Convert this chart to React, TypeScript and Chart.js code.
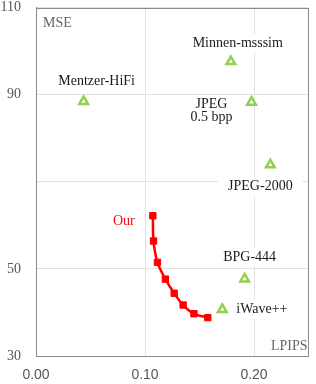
import React, { useEffect, useRef } from 'react';
import { Chart, registerables } from 'chart.js';

Chart.register(...registerables);

// ---- data ----
const ourName = 'Our';
const ourLpips = [0.1072, 0.1078, 0.1114, 0.1187, 0.1268, 0.135, 0.1449, 0.1576];
const ourMse = [62.2, 56.4, 51.5, 47.65, 44.4, 41.7, 39.7, 38.8];

const methodNames = ['Mentzer-HiFi', 'Minnen-msssim', 'JPEG\n0.5 bpp', 'JPEG-2000', 'BPG-444', 'iWave++'];
const methodLpips = [0.0437, 0.1787, 0.1977, 0.215, 0.1914, 0.1709];
const methodMse = [88.45, 97.6, 88.25, 73.9, 47.7, 40.7];

const xTickValues = [0, 0.1, 0.2];
const xTickLabels = ['0.00', '0.10', '0.20'];
const yTickValues = [30, 50, 70, 90, 110];
const yTickLabels = ['30', '50', '', '90', '110'];
const xAxisTitle = 'LPIPS';
const yAxisTitle = 'MSE';

// ---- layout of annotations (pixel offsets from their point) ----
const methodLabelOffsets: [number, number, CanvasTextAlign][] = [
  [13, -20, 'center'],
  [7, -18, 'center'],
  [-40, 8.4, 'center'],
  [-10, 22, 'center'],
  [5, -21.6, 'center'],
  [14, 0, 'left'],
];
const ourLabelOffset = [-29, 6];

const SERIF = '"Liberation Serif", "Times New Roman", serif';
const SANS = '"Liberation Sans", Arial, sans-serif';

const annotationPlugin = {
  id: 'annotations',
  beforeDatasetsDraw(chart: any) {
    const { ctx, scales, chartArea } = chart;
    const x = scales.x;
    const y = scales.y;
    ctx.save();
    ctx.font = `14px ${SERIF}`;
    ctx.textBaseline = 'middle';
    const lh = 12.5;
    methodNames.forEach((name, i) => {
      const px = x.getPixelForValue(methodLpips[i]);
      const py = y.getPixelForValue(methodMse[i]);
      const [dx, dy, align] = methodLabelOffsets[i];
      const lines = name.split('\n');
      const cx = px + dx;
      const cy = py + dy;
      const w = Math.max(...lines.map((l) => ctx.measureText(l).width));
      const h = lines.length * lh;
      const left = align === 'left' ? cx : cx - w / 2;
      ctx.fillStyle = '#ffffff';
      ctx.fillRect(left - 10, cy - h / 2 - 3, w + 20, h + 6);
      ctx.fillStyle = '#1a1a1a';
      ctx.textAlign = align;
      lines.forEach((l, j) => ctx.fillText(l, cx, cy - h / 2 + lh / 2 + j * lh));
    });
    // "Our" label
    const ox = x.getPixelForValue(ourLpips[0]) + ourLabelOffset[0];
    const oy = y.getPixelForValue(ourMse[0]) + ourLabelOffset[1];
    ctx.fillStyle = '#ff0000';
    ctx.textAlign = 'center';
    ctx.fillText(ourName, ox, oy);
    // axis titles inside the plot
    ctx.fillStyle = '#666666';
    ctx.textAlign = 'left';
    ctx.fillText(yAxisTitle, chartArea.left + 7, chartArea.top + 16);
    ctx.textAlign = 'right';
    ctx.fillText(xAxisTitle, chartArea.right - 1, chartArea.bottom - 10);
    ctx.restore();
  },
  afterDraw(chart: any) {
    const { ctx, chartArea } = chart;
    ctx.save();
    ctx.strokeStyle = '#8a8a8a';
    ctx.lineWidth = 1;
    ctx.strokeRect(
      Math.round(chartArea.left) + 0.5,
      Math.round(chartArea.top) + 0.5,
      Math.round(chartArea.right - chartArea.left) - 1,
      Math.round(chartArea.bottom - chartArea.top) - 1
    );
    ctx.restore();
  },
};

export default function App() {
  const ref = useRef<HTMLCanvasElement | null>(null);
  useEffect(() => {
    if (!ref.current) return;
    const chart = new Chart(ref.current, {
      type: 'scatter',
      data: {
        datasets: [
          {
            label: ourName,
            data: ourLpips.map((v, i) => ({ x: v, y: ourMse[i] })),
            showLine: true,
            borderColor: '#ff0000',
            backgroundColor: '#ff0000',
            borderWidth: 2.5,
            tension: 0.3,
            pointStyle: 'rect',
            pointRadius: 4.5,
            pointBorderWidth: 1,
          },
          {
            label: 'others',
            data: methodLpips.map((v, i) => ({ x: v, y: methodMse[i] })),
            showLine: false,
            borderColor: '#92d050',
            backgroundColor: 'rgba(255,255,255,1)',
            pointStyle: 'triangle',
            pointRadius: 5,
            pointBorderWidth: 2.5,
          },
        ],
      },
      options: {
        animation: false,
        responsive: false,
        devicePixelRatio: 1,
        layout: { padding: { top: 7, right: 1, left: 0, bottom: 0 } },
        plugins: { legend: { display: false }, tooltip: { enabled: false } },
        scales: {
          x: {
            type: 'linear',
            min: 0,
            max: 0.25,
            afterBuildTicks: (s: any) => {
              s.ticks = xTickValues.map((v) => ({ value: v }));
            },
            afterFit: (s: any) => {
              s.height = 28;
              s.paddingLeft = 0;
              s.paddingRight = 0;
            },
            ticks: {
              callback: (_v: any, i: number) => xTickLabels[i],
              font: { family: SANS, size: 14 },
              color: '#555555',
              padding: 11,
              maxRotation: 0,
            },
            grid: { color: '#e2e2e2', drawTicks: false },
            border: { color: '#8a8a8a' },
          },
          y: {
            type: 'linear',
            min: 30,
            max: 110,
            afterBuildTicks: (s: any) => {
              s.ticks = yTickValues.map((v) => ({ value: v }));
            },
            afterFit: (s: any) => {
              s.width = 36;
              s.paddingTop = 0;
              s.paddingBottom = 0;
            },
            ticks: {
              callback: (_v: any, i: number) => yTickLabels[i],
              font: { family: SERIF, size: 14, lineHeight: 1 },
              color: '#555555',
              padding: 15,
            },
            grid: { color: '#e2e2e2', drawTicks: false },
            border: { color: '#8a8a8a' },
          },
        },
      },
      plugins: [annotationPlugin],
    } as any);
    return () => chart.destroy();
  }, []);
  return (
    <div style={{ position: 'fixed', left: 0, top: 0, width: 316, height: 384, background: '#fff' }}>
      <canvas ref={ref} width={316} height={384} style={{ width: 316, height: 384 }} />
    </div>
  );
}
